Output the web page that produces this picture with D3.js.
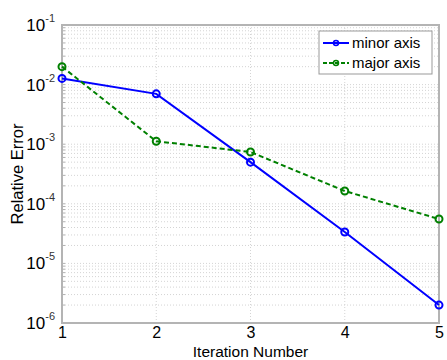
<!DOCTYPE html>
<html>
<head>
<meta charset="utf-8">
<script src="https://cdn.jsdelivr.net/npm/d3@7"></script>
<style>
  body { margin: 0; background: #fff; }
  svg { font-family: "Liberation Sans", Arial, sans-serif; }
</style>
</head>
<body>
<svg width="447" height="360"></svg>
<script>
// данные
const iterations = [1, 2, 3, 4, 5];
const minorAxis = [0.0127, 0.0070, 0.00050, 0.0000337, 0.0000020];
const majorAxis = [0.0200, 0.00112, 0.00074, 0.000164, 0.0000555];
const yTickExps = [-6, -5, -4, -3, -2, -1];
const seriesNames = ["minor axis", "major axis"];

const svg = d3.select("svg");
const area = { left: 62, right: 439, top: 25, bottom: 323 };

const scX = d3.scaleLinear().domain([1, 5]).range([area.left, area.right]);
const scY = d3.scaleLog().domain([1e-6, 1e-1]).range([area.bottom, area.top]);

// сетка: вертикальные линии
svg.append("g")
    .selectAll("line")
    .data(iterations)
    .enter()
    .append("line")
    .attr("x1", d => scX(d)).attr("x2", d => scX(d))
    .attr("y1", area.top).attr("y2", area.bottom)
    .style("stroke", "#d4d4d4")
    .style("stroke-dasharray", "1,2");

// сетка: горизонтальные (главные и вспомогательные деления)
let minorVals = [];
for (let e = -6; e < -1; e++) {
    for (let m = 1; m < 10; m++) minorVals.push(m * Math.pow(10, e));
}
minorVals.push(1e-1);
svg.append("g")
    .selectAll("line")
    .data(minorVals)
    .enter()
    .append("line")
    .attr("x1", area.left).attr("x2", area.right)
    .attr("y1", d => scY(d)).attr("y2", d => scY(d))
    .style("stroke", "#d4d4d4")
    .style("stroke-dasharray", "1,2");

// мелкие засечки внутри рамки
svg.append("g")
    .selectAll("line")
    .data(minorVals)
    .enter()
    .append("line")
    .attr("x1", area.left).attr("x2", area.left + 3)
    .attr("y1", d => scY(d)).attr("y2", d => scY(d))
    .style("stroke", "#b0b0b0");

// рамка
svg.append("rect")
    .attr("x", area.left).attr("y", area.top)
    .attr("width", area.right - area.left)
    .attr("height", area.bottom - area.top)
    .style("fill", "none")
    .style("stroke", "#b4b4b4")
    .style("stroke-width", 2);

// подписи оси X
let axisX = d3.axisBottom(scX).tickValues(iterations).tickFormat(d3.format("d")).tickSize(0).tickPadding(4);
let gx = svg.append("g")
    .attr("transform", `translate(0, ${area.bottom})`)
    .call(axisX);
gx.select(".domain").remove();
gx.selectAll("text")
    .style("font-family", "Liberation Sans, Arial, sans-serif")
    .style("font-size", "16px")
    .style("fill", "#000");

// подписи оси Y: 10 со степенью
let gy = svg.append("g");
yTickExps.forEach(e => {
    let t = gy.append("text")
        .attr("x", 55)
        .attr("y", scY(Math.pow(10, e)) + 6)
        .attr("text-anchor", "end")
        .style("font-size", "17px")
        .style("fill", "#000");
    t.append("tspan").text("10");
    t.append("tspan")
        .attr("dy", -9)
        .style("font-size", "11px")
        .style("fill", "#333")
        .text(e);
});

// названия осей
svg.append("text")
    .attr("x", (area.left + area.right) / 2)
    .attr("y", 356.5)
    .attr("text-anchor", "middle")
    .style("font-size", "15.5px")
    .text("Iteration Number");

svg.append("text")
    .attr("transform", `translate(23, ${(area.top + area.bottom) / 2}) rotate(-90)`)
    .attr("text-anchor", "middle")
    .style("font-size", "16.5px")
    .text("Relative Error");

// линии рядов
function drawSeries(values, color, dash) {
    let pts = iterations.map((d, i) => [d, values[i]]);
    let line = d3.line().x(d => scX(d[0])).y(d => scY(d[1]));
    svg.append("path")
        .datum(pts)
        .attr("d", line)
        .style("fill", "none")
        .style("stroke", color)
        .style("stroke-width", 2)
        .style("stroke-dasharray", dash);
    svg.append("g")
        .selectAll("circle")
        .data(pts)
        .enter()
        .append("circle")
        .attr("cx", d => scX(d[0]))
        .attr("cy", d => scY(d[1]))
        .attr("r", 3.5)
        .style("fill", "none")
        .style("stroke", color)
        .style("stroke-width", 2);
}
drawSeries(minorAxis, "#0000ff", null);
drawSeries(majorAxis, "#008000", "5,3");

// легенда
let leg = svg.append("g");
leg.append("rect")
    .attr("x", 319).attr("y", 31)
    .attr("width", 113).attr("height", 43)
    .style("fill", "#fff")
    .style("stroke", "#999")
    .style("stroke-width", 1);
const legColors = ["#0000ff", "#008000"];
const legDash = [null, "4,2"];
seriesNames.forEach((name, i) => {
    let y = 43 + i * 20;
    leg.append("line")
        .attr("x1", 323).attr("x2", 349)
        .attr("y1", y).attr("y2", y)
        .style("stroke", legColors[i])
        .style("stroke-width", 2)
        .style("stroke-dasharray", legDash[i]);
    leg.append("circle")
        .attr("cx", 336).attr("cy", y).attr("r", 2.5)
        .style("fill", "none")
        .style("stroke", legColors[i])
        .style("stroke-width", 1.5);
    leg.append("text")
        .attr("x", 352).attr("y", y + 5)
        .style("font-size", "15px")
        .text(name);
});
</script>
</body>
</html>
